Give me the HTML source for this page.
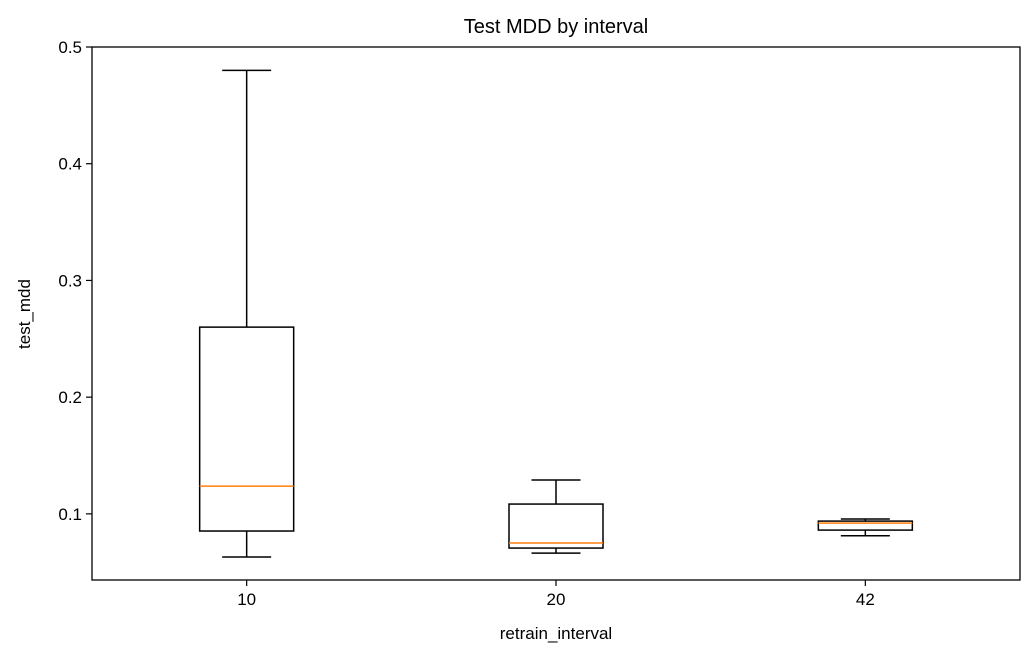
<!DOCTYPE html>
<html><head><meta charset="utf-8"><style>
body{margin:0;background:#fff;}
svg text{font-family:"Liberation Sans","DejaVu Sans",sans-serif;}
</style></head><body>
<svg id="chart" width="1035" height="660" xmlns="http://www.w3.org/2000/svg">
<rect width="1035" height="660" fill="#fff"/>
<text x="556" y="33" font-size="20" text-anchor="middle">Test MDD by interval</text>
<text x="556" y="639" font-size="17" text-anchor="middle">retrain_interval</text>
<text x="30" y="314" font-size="17" text-anchor="middle" transform="rotate(-90 30 314)">test_mdd</text>
<g id="marks"></g>
<rect x="92" y="47" width="928" height="533" fill="none" stroke="#000" stroke-width="1.3"/>
</svg>
<script>
const categories = ["10","20","42"];
const whiskerHigh = [0.480, 0.129, 0.0956];
const q3 = [0.260, 0.1084, 0.0938];
const median = [0.1238, 0.075, 0.0921];
const q1 = [0.0853, 0.0707, 0.0861];
const whiskerLow = [0.063, 0.0664, 0.0812];
const yTicks = [0.1,0.2,0.3,0.4,0.5];
const yTickLabels = ["0.1","0.2","0.3","0.4","0.5"];

const L=92,R=1020,T=47,B=580,ymin=0.04334,ymax=0.5;
const x=p=>L+(p+0.5)*(R-L)/categories.length;
const y=v=>B-(v-ymin)/(ymax-ymin)*(B-T);
const g=document.getElementById('marks');
const NS='http://www.w3.org/2000/svg';
function mk(tag,attrs,name){const e=document.createElementNS(NS,tag);for(const k in attrs)e.setAttribute(k,attrs[k]);


g.appendChild(e);return e;}
yTicks.forEach((t,i)=>{
 const yy=y(t);
 mk('line',{x1:L-6,x2:L,y1:yy,y2:yy,stroke:'#000','stroke-width':1.2},'y-tick');
 const tx=mk('text',{x:L-10,y:yy+6,'font-size':17,'text-anchor':'end'},'y-tick-label');tx.textContent=yTickLabels[i];
});
const bw=94, cw=49;
categories.forEach((c,i)=>{
 const cx=x(i);
 mk('line',{x1:cx,x2:cx,y1:B,y2:B+6,stroke:'#000','stroke-width':1.2},'x-tick');
 const tx=mk('text',{x:cx,y:B+25,'font-size':17,'text-anchor':'middle'},'x-tick-label');tx.textContent=c;
 mk('line',{x1:cx,x2:cx,y1:y(q3[i]),y2:y(whiskerHigh[i]),stroke:'#000','stroke-width':1.5},'upper-whisker');
 mk('line',{x1:cx,x2:cx,y1:y(q1[i]),y2:y(whiskerLow[i]),stroke:'#000','stroke-width':1.5},'lower-whisker');
 mk('line',{x1:cx-cw/2,x2:cx+cw/2,y1:y(whiskerHigh[i]),y2:y(whiskerHigh[i]),stroke:'#000','stroke-width':1.5},'upper-cap');
 mk('line',{x1:cx-cw/2,x2:cx+cw/2,y1:y(whiskerLow[i]),y2:y(whiskerLow[i]),stroke:'#000','stroke-width':1.5},'lower-cap');
 mk('rect',{x:cx-bw/2,y:y(q3[i]),width:bw,height:y(q1[i])-y(q3[i]),fill:'none',stroke:'#000','stroke-width':1.5},'box-'+c);
 mk('line',{x1:cx-bw/2,x2:cx+bw/2,y1:y(median[i]),y2:y(median[i]),stroke:'#ff7f0e','stroke-width':1.5},'median-'+c);
});
</script>
</body></html>
